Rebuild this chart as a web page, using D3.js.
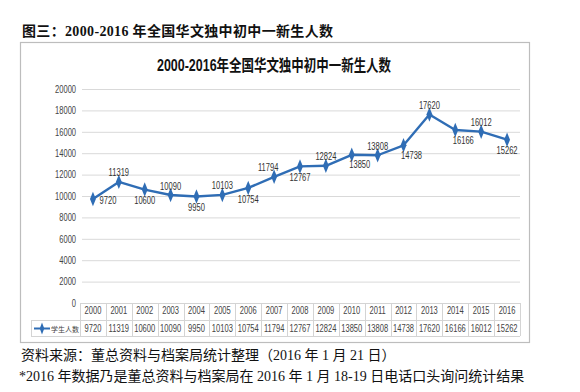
<!DOCTYPE html>
<html><head><meta charset="utf-8">
<script src="https://cdn.jsdelivr.net/npm/d3@7"></script>
<style>
body{margin:0;background:#fff;}
svg{display:block;}
</style></head>
<body>
<svg id="c" width="580" height="392"></svg>
<script>
const years = ["2000","2001","2002","2003","2004","2005","2006","2007","2008","2009","2010","2011","2012","2013","2014","2015","2016"];
const students = [9720,11319,10600,10090,9950,10103,10754,11794,12767,12824,13850,13808,14738,17620,16166,16012,15262];
const yTicks = [0,2000,4000,6000,8000,10000,12000,14000,16000,18000,20000];
const seriesName = "学生人数";
const pageTitle = "图三：2000-2016 年全国华文独中初中一新生人数";
const chartTitle = "2000-2016年全国华文独中初中一新生人数";
const notes = ["资料来源：董总资料与档案局统计整理（2016 年 1 月 21 日）",
               "*2016 年数据乃是董总资料与档案局在 2016 年 1 月 18-19 日电话口头询问统计结果"];
const labelPlace = ["right","above","below","above","below","above","below","aboveLeft","below","above","belowRight","above","belowRight","above","belowRight","above","below"];

(function(){
const svg = d3.select("#c");
const blue = "#2f6db5";
const sans = "'Liberation Sans','Noto Sans CJK SC',sans-serif";
const serif = "'Liberation Serif','Noto Sans CJK SC',serif";
const numSize = 10.5, sx = 0.72;

svg.append("text").attr("x",22).attr("y",36)
  .attr("font-family",serif).attr("font-weight","bold").attr("font-size",14)
  .attr("textLength",311).attr("lengthAdjust","spacing")
  .attr("fill","#111").text(pageTitle);

svg.append("rect").attr("x",20.5).attr("y",42.5).attr("width",509).attr("height",300)
  .attr("fill","#fff").attr("stroke","#bdbdbd").attr("stroke-width",1.2);

svg.append("text").attr("transform","translate(274,71) scale(0.78,1)").attr("text-anchor","middle")
  .attr("font-family",sans).attr("font-weight","bold").attr("font-size",16)
  .attr("fill","#111").text(chartTitle);

const pL=80, pR=520, pT=89, pB=303;
const x = d3.scaleBand().domain(years).range([pL,pR]);
const y = d3.scaleLinear().domain([0,20000]).range([pB,pT]);

const ya = svg.append("g").attr("transform",`translate(${pL},0)`)
  .call(d3.axisLeft(y).tickValues(yTicks).tickSize(-(pR-pL)).tickPadding(5.5).tickFormat(d3.format("d")));
ya.select(".domain").remove();
ya.selectAll(".tick line").attr("stroke","#d9d9d9").attr("stroke-width",1).attr("x1",2);
ya.selectAll(".tick text").attr("font-family",sans).attr("font-size",numSize).attr("fill","#444")
  .attr("transform",`scale(${sx},1)`);

const rowTop = pB, rowMid = 320, rowBot = 336, legLeft = 31;
const tg = svg.append("g").attr("stroke","#d4d4d4").attr("stroke-width",1);
tg.append("line").attr("x1",pL).attr("x2",pR).attr("y1",rowTop+0.5).attr("y2",rowTop+0.5);
tg.append("line").attr("x1",legLeft).attr("x2",pR).attr("y1",rowMid+0.5).attr("y2",rowMid+0.5);
tg.append("line").attr("x1",legLeft).attr("x2",pR).attr("y1",rowBot+0.5).attr("y2",rowBot+0.5);
tg.append("line").attr("x1",legLeft+0.5).attr("x2",legLeft+0.5).attr("y1",rowMid).attr("y2",rowBot);
tg.selectAll("line.v").data(years.concat(["end"])).join("line").attr("class","v")
  .attr("x1",(d,i)=>Math.round(pL+i*x.bandwidth())+0.5)
  .attr("x2",(d,i)=>Math.round(pL+i*x.bandwidth())+0.5)
  .attr("y1",rowTop).attr("y2",rowBot);

const xa = svg.append("g").attr("transform",`translate(0,${rowTop})`)
  .call(d3.axisBottom(x).tickSize(0).tickPadding(4));
xa.select(".domain").remove();
xa.selectAll(".tick text").attr("font-family",sans).attr("font-size",numSize).attr("fill","#444")
  .attr("transform",`scale(${sx},1)`);

svg.append("g").selectAll("text").data(students).join("text")
  .attr("transform",(d,i)=>`translate(${x(years[i])+x.bandwidth()/2},${(rowMid+rowBot)/2+3.8}) scale(${sx},1)`)
  .attr("text-anchor","middle").attr("font-family",sans).attr("font-size",numSize).attr("fill","#444")
  .text(d=>d);

const ly = (rowMid+rowBot)/2+0.5;
svg.append("line").attr("x1",34).attr("x2",50).attr("y1",ly).attr("y2",ly).attr("stroke",blue).attr("stroke-width",2);
svg.append("path").attr("d",d3.symbol(d3.symbolDiamond,28)()).attr("transform",`translate(42,${ly}) scale(0.8,1.2)`).attr("fill",blue);
svg.append("text").attr("x",51).attr("y",ly+3).attr("font-family","'Noto Sans CJK SC',sans-serif")
  .attr("font-size",7).attr("fill","#444").text(seriesName);

const cx = (d,i)=>x(years[i])+x.bandwidth()/2;
svg.append("path").datum(students)
  .attr("d",d3.line().x(cx).y(d=>y(d)))
  .attr("fill","none").attr("stroke",blue).attr("stroke-width",2.4).attr("stroke-linejoin","round");
svg.append("g").selectAll("path").data(students).join("path")
  .attr("d",d3.symbol(d3.symbolDiamond,42)())
  .attr("transform",(d,i)=>`translate(${cx(d,i)},${y(d)}) scale(0.85,1.2)`)
  .attr("fill",blue);

const off = {right:[15,1],above:[0,-9],below:[0,11],aboveLeft:[-6,-9],belowRight:[8,10]};
svg.append("g").selectAll("text").data(students).join("text")
  .attr("transform",(d,i)=>`translate(${cx(d,i)+off[labelPlace[i]][0]},${y(d)+off[labelPlace[i]][1]+3.6}) scale(${sx},1)`)
  .attr("text-anchor","middle")
  .attr("font-family",sans).attr("font-size",numSize).attr("fill","#333")
  .text(d=>d);

svg.append("g").selectAll("text").data(notes).join("text")
  .attr("x",(d,i)=>i===0?21:19).attr("y",(d,i)=>360+i*21)
  .attr("font-family",serif).attr("font-size",14).attr("fill","#111")
  .text(d=>d);
})();
</script>
</body></html>
